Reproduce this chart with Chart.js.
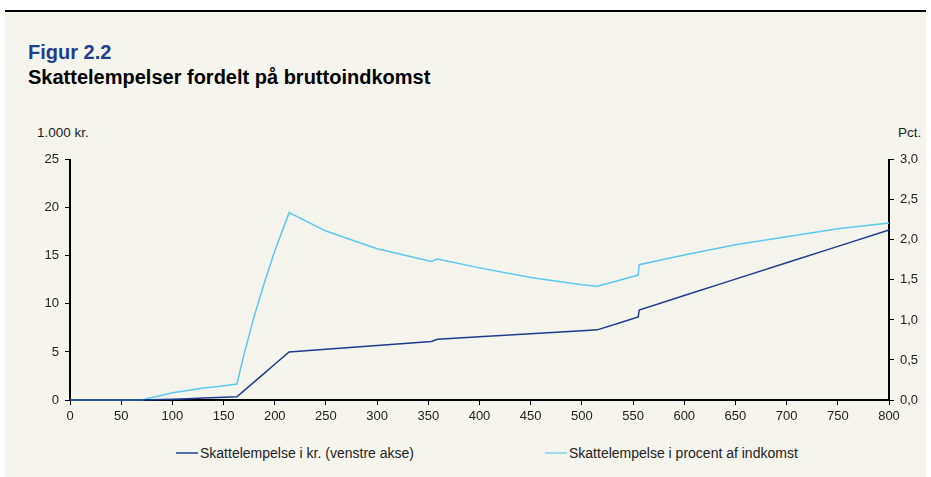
<!DOCTYPE html>
<html>
<head>
<meta charset="utf-8">
<script src="https://cdn.jsdelivr.net/npm/chart.js@4/dist/chart.umd.min.js"></script>
<style>
  body { margin: 0; background: #fff; font-family: "Liberation Sans", Arial, sans-serif; }
  #box { position: absolute; left: 5px; top: 10px; width: 921px; height: 467px; background: #f5f5ee; border-top: 2px solid #000; }
  .abs { position: absolute; white-space: nowrap; }
  #fig { left: 28px; top: 41px; font-size: 20px; font-weight: bold; color: #1f3f8f; }
  #title { left: 28px; top: 66px; font-size: 20px; font-weight: bold; color: #000; }
  .axt { top: 125px; font-size: 13.5px; color: #222; }
  .leg { top: 445px; font-size: 14px; color: #222; }
  .sw { position: absolute; top: 452px; height: 2px; width: 22px; }
  #wrap { position: absolute; left: 0; top: 146px; width: 931px; height: 279px; }
</style>
</head>
<body>
<div id="box"></div>
<div class="abs" id="fig">Figur 2.2</div>
<div class="abs" id="title">Skattelempelser fordelt på bruttoindkomst</div>
<div class="abs axt" style="left:37px">1.000 kr.</div>
<div class="abs axt" style="left:898px">Pct.</div>
<div class="sw" style="left:176px;background:#5470a8"></div>
<div class="abs leg" style="left:200px">Skattelempelse i kr. (venstre akse)</div>
<div class="sw" style="left:545px;background:#9fdcf0"></div>
<div class="abs leg" style="left:569px">Skattelempelse i procent af indkomst</div>
<div id="wrap"><canvas id="c"></canvas></div>
<script>
// bruttoindkomst, 1.000 kr.
const income = [0, 70, 80, 90, 100, 115, 130, 145, 163, 170, 180, 190, 200, 214, 250, 300, 353, 359, 400, 450, 500, 515, 535, 555, 556, 600, 650, 700, 750, 800];
// skattelempelse i 1.000 kr. (venstre akse)
const reliefKr = [0, 0, 0.02, 0.05, 0.09, 0.14, 0.2, 0.25, 0.33, 0.97, 1.89, 2.8, 3.72, 5.0, 5.28, 5.68, 6.1, 6.33, 6.59, 6.9, 7.21, 7.3, 7.97, 8.64, 9.37, 10.87, 12.58, 14.28, 15.99, 17.7];
// skattelempelse i pct. af indkomst (højre akse)
const reliefPct = [0, 0, 0.03, 0.06, 0.09, 0.12, 0.15, 0.17, 0.2, 0.57, 1.05, 1.47, 1.86, 2.34, 2.11, 1.89, 1.73, 1.76, 1.65, 1.53, 1.44, 1.42, 1.49, 1.56, 1.69, 1.81, 1.94, 2.04, 2.14, 2.21];

const xTicks = [0, 50, 100, 150, 200, 250, 300, 350, 400, 450, 500, 550, 600, 650, 700, 750, 800];

const tickFont = { family: '"Liberation Sans", Arial, sans-serif', size: 13 };
const axisGrid = { display: true, drawOnChartArea: false, drawTicks: true, tickLength: 5, color: '#000', lineWidth: 1 };
const axisBorder = { display: true, color: '#000', width: 2 };

new Chart(document.getElementById('c'), {
  type: 'line',
  data: {
    datasets: [
      { label: 'Skattelempelse i kr. (venstre akse)', data: income.map((x, i) => ({ x, y: reliefKr[i] })),
        borderColor: '#1d3c8c', borderWidth: 1.5, pointRadius: 0, yAxisID: 'y', tension: 0, clip: false },
      { label: 'Skattelempelse i procent af indkomst', data: income.map((x, i) => ({ x, y: reliefPct[i] })),
        borderColor: '#5ec8ee', borderWidth: 1.5, pointRadius: 0, yAxisID: 'y1', tension: 0, clip: false }
    ]
  },
  options: {
    responsive: true,
    maintainAspectRatio: false,
    animation: false,
    layout: { padding: { top: 8, left: 0, right: 0, bottom: 0 } },
    plugins: { legend: { display: false }, tooltip: { enabled: false } },
    scales: {
      x: {
        type: 'linear', min: 0, max: 800,
        afterBuildTicks: s => { s.ticks = xTicks.map(v => ({ value: v })); },
        afterFit: s => { s.height = 25; },
        ticks: { color: '#222', font: tickFont, padding: 4, maxRotation: 0, autoSkip: false },
        grid: axisGrid, border: axisBorder
      },
      y: {
        position: 'left', min: 0, max: 25,
        afterFit: s => { s.width = 70; },
        ticks: { stepSize: 5, color: '#222', font: tickFont, padding: 6 },
        grid: axisGrid, border: axisBorder
      },
      y1: {
        position: 'right', min: 0, max: 3,
        afterFit: s => { s.width = 42; },
        ticks: { stepSize: 0.5, color: '#222', font: tickFont, padding: 6,
          callback: v => v.toFixed(1).replace('.', ',') },
        grid: axisGrid, border: axisBorder
      }
    }
  }
});
</script>
</body>
</html>
